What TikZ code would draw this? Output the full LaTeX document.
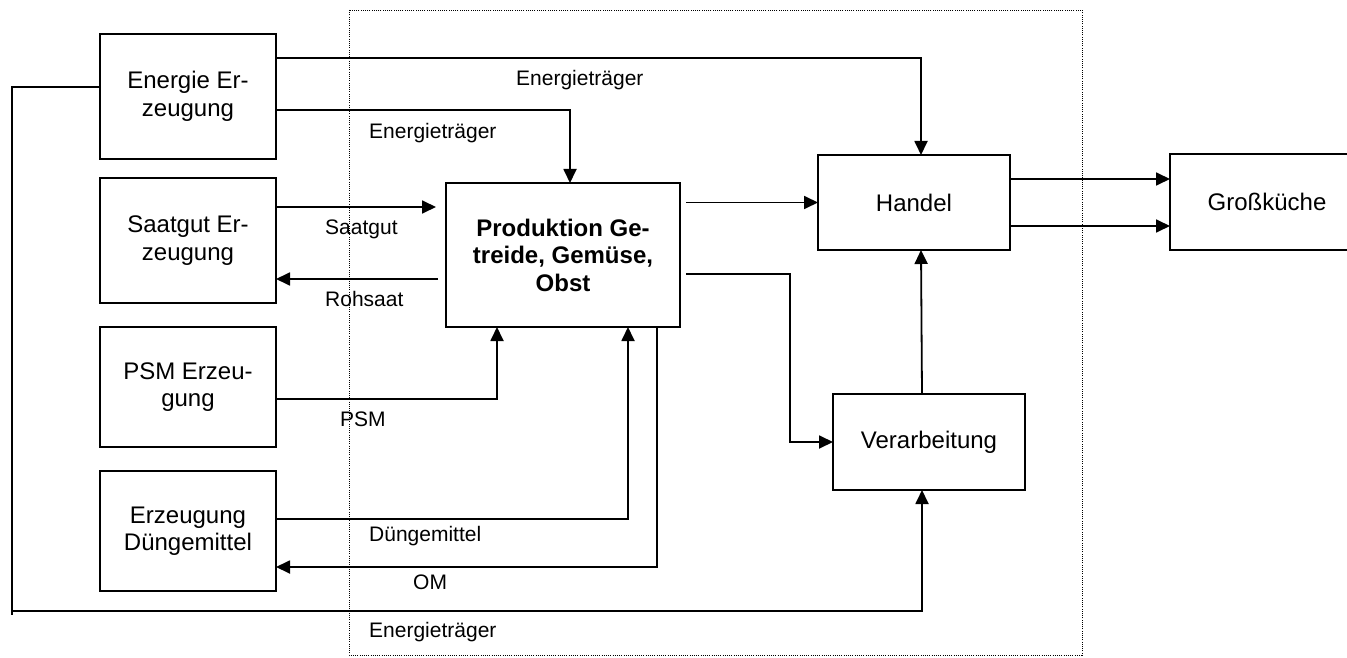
\documentclass[tikz,border=0pt]{standalone}
\usepackage{fontspec}
\setmainfont{Liberation Sans}
\usetikzlibrary{arrows.meta,calc}
\begin{document}
\begin{tikzpicture}[x=1pt,y=-1pt,
  box/.style={draw,line width=1.8pt,inner sep=0pt,outer sep=0pt,align=center,
    font=\fontsize{24pt}{27.5pt}\selectfont},
  flow/.style={line width=1.8pt},
  arr/.style={flow,-{Triangle[length=14pt,width=13pt]}},
  lbl/.style={anchor=west,inner sep=0pt,text height=15pt,text depth=4.5pt,
    font=\fontsize{21pt}{25pt}\selectfont},
  frame/.style={line width=0.9pt,dash pattern=on 1pt off 1.2pt}]
\useasboundingbox (0,0) rectangle (1347,658);
\clip (0,0) rectangle (1347,658);

% dotted system boundary
\draw[frame] (349,10) rectangle (1082,655);

% boxes
\node[box,minimum width=176pt,minimum height=125pt] (energie) at (188,96.5) {Energie Er-\\zeugung};
\node[box,minimum width=176pt,minimum height=125pt] (saatgut) at (188,240.5) {Saatgut Er-\\zeugung};
\node[box,minimum width=176pt,minimum height=120pt] (psm) at (188,387) {PSM Erzeu-\\gung};
\node[box,minimum width=176pt,minimum height=120pt] (duenger) at (188,531) {Erzeugung\\Düngemittel};
\node[box,minimum width=234pt,minimum height=144pt,font=\fontsize{24pt}{27.5pt}\selectfont\bfseries] (prod) at (563,255) {Produktion Ge-\\treide, Gemüse,\\Obst};
\node[box,minimum width=192pt,minimum height=95pt] (handel) at (914,202.5) {Handel};
\node[box,minimum width=192pt,minimum height=96pt] (verarb) at (929,442) {Verarbeitung};
\node[box,minimum width=194pt,minimum height=96pt] (gross) at (1267,202) {Großküche};

% free ends of the energy loop
\coordinate (lt) at (12,87);
\coordinate (lb) at (12,615);
\coordinate (lc) at (12,611);

% energy supply
\draw[arr] ($(energie.north east)+(0,24)$) -| ($(handel.north)+(7,0)$);
\draw[arr] ($(energie.north east)+(0,76)$) -| ($(prod.north)+(7,0)$);
\draw[flow] ($(energie.north west)+(0,53)$) -- (lt) -- (lb);
\draw[arr] (lc) -| ($(verarb.south)+(-7,0)$);

% seed
\draw[arr] ($(saatgut.north east)+(0,29)$) -- ($(prod.north west)+(-10,24)$);
\draw[arr] ($(prod.north west)+(-8,96)$) -- ($(saatgut.north east)+(0,101)$);

% plant protection and fertiliser
\draw[arr] ($(psm.north east)+(0,72)$) -| ($(prod.south west)+(51,0)$);
\draw[arr] ($(duenger.north east)+(0,48)$) -| ($(prod.south west)+(182,0)$);
\draw[arr] ($(prod.south west)+(211,0)$) |- ($(duenger.north east)+(0,96)$);

% product flows
\draw[arr] ($(prod.north east)+(6,19.5)$) -- (handel.west);
\draw[arr] ($(prod.north east)+(6,91)$) -| ($(verarb.west)+(-43,0)$) -- (verarb.west);
\draw[arr] ($(verarb.north)+(-7,0)$) -- ($(handel.south)+(7,0)$);
\draw[arr] ($(handel.east)+(0,-23.5)$) -- ($(gross.west)+(0,-23)$);
\draw[arr] ($(handel.east)+(0,23.5)$) -- ($(gross.west)+(0,24)$);

% flow labels
\node[lbl] (l1) at (516,80) {Energieträger};
\node[lbl] (l2) at (369,133) {Energieträger};
\node[lbl] (l3) at (325,229) {Saatgut};
\node[lbl] (l4) at (325,301) {Rohsaat};
\node[lbl] (l5) at (340,421) {PSM};
\node[lbl] (l6) at (369,536) {Düngemittel};
\node[lbl] (l7) at (413,584) {OM};
\node[lbl] (l8) at (369,632) {Energieträger};
\end{tikzpicture}
\end{document}
